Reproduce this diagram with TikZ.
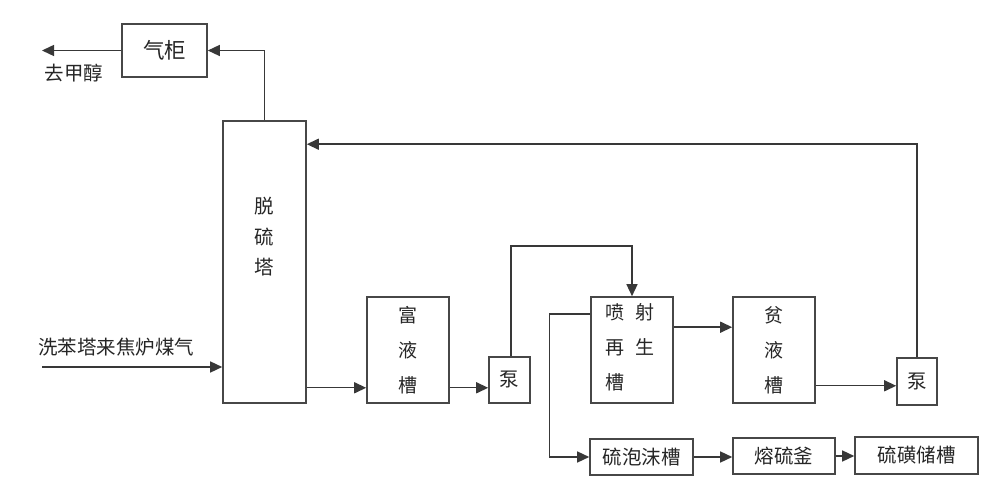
\documentclass[tikz,border=0pt]{standalone}
\usepackage{fontspec}
\setmainfont{Noto Sans CJK SC}
\usetikzlibrary{arrows.meta,calc}
\begin{document}
\begin{tikzpicture}[x=1pt,y=-1pt,
  box/.style={draw=black!72,line width=1.6pt,inner sep=0pt,font=\fontsize{19.5}{22}\selectfont,text=black!85},
  tallbox/.style={box,align=center,font=\fontsize{19}{35}\selectfont},
  flow/.style={draw=black!78,line width=1.4pt,-{Triangle[length=12pt,width=11pt]}},
  lbl/.style={font=\fontsize{19.5}{22}\selectfont,inner sep=0pt,text=black!85},
]
\useasboundingbox (0,0) rectangle (1002,486);
\fill[white] (0,0) rectangle (1002,486);

% boxes
\node[box,minimum width=85pt,minimum height=53pt,font=\fontsize{21.5}{24}\selectfont] (gas) at (164.5,50.5) {气柜};
\node[box,minimum width=83pt,minimum height=282pt] (tower) at (264.5,262) {};
\node[lbl,align=center,font=\fontsize{19.5}{30.5}\selectfont] (towertxt) at (264.5,237) {脱\\硫\\塔};
\node[tallbox,minimum width=82pt,minimum height=106pt] (rich) at (408,350) {富\\液\\槽};
\node[box,minimum width=41pt,minimum height=46pt] (pumpa) at (509.5,380) {泵};
\node[box,minimum width=82pt,minimum height=106pt] (regen) at (632,350) {};
\node[lbl,align=left,font=\fontsize{19}{35}\selectfont] (regentxt) at (630,347) {喷\hspace{11pt}射\\再\hspace{11pt}生\\槽};
\node[tallbox,minimum width=82pt,minimum height=106pt] (lean) at (774,350) {贫\\液\\槽};
\node[box,minimum width=40pt,minimum height=47pt] (pumpb) at (917,381.5) {泵};
\node[box,minimum width=103pt,minimum height=36pt] (foam) at (641.5,457) {硫泡沫槽};
\node[box,minimum width=102pt,minimum height=36pt] (melt) at (784,456) {熔硫釜};
\node[box,minimum width=123pt,minimum height=37pt] (sulfur) at (916.5,455.5) {硫磺储槽};

% free labels
\node[lbl] (outlbl) at (74,73) {去甲醇};
\node[lbl] (inlbl) at (116,347) {洗苯塔来焦炉煤气};

% free ends
\coordinate (outend) at (42,50.5);
\coordinate (inend) at (42,367);

% connectors
\draw[flow] (tower.north) |- (gas.east);
\draw[flow] (gas.west) -- (outend);
\draw[flow] (inend) -- (inend -| tower.west);

\coordinate (a1) at ([yshift=16pt]rich.south west);
\draw[flow] (a1 -| tower.east) -- (a1);
\coordinate (a2) at ([yshift=16pt]rich.south east);
\draw[flow] (a2) -- (a2 -| pumpa.west);
\draw[flow] ([xshift=1.5pt]pumpa.north) -- ++(0,-110) -| (regen.north);
\coordinate (a3) at ([yshift=-31pt]regen.north east);
\draw[flow] (a3) -- (a3 -| lean.west);
\coordinate (a4) at ([yshift=18pt]lean.south east);
\draw[flow] (a4) -- (a4 -| pumpb.west);
\coordinate (a5) at ([yshift=-24pt]tower.north east);
\draw[flow] (pumpb.north) |- (a5);
\draw[flow] ([yshift=-18pt]regen.north west) -- ++(-41,0) |- (foam.west);
\draw[flow] (foam.east) -- (foam.east -| melt.west);
\draw[flow] (melt.east) -- (melt.east -| sulfur.west);
\end{tikzpicture}
\end{document}
